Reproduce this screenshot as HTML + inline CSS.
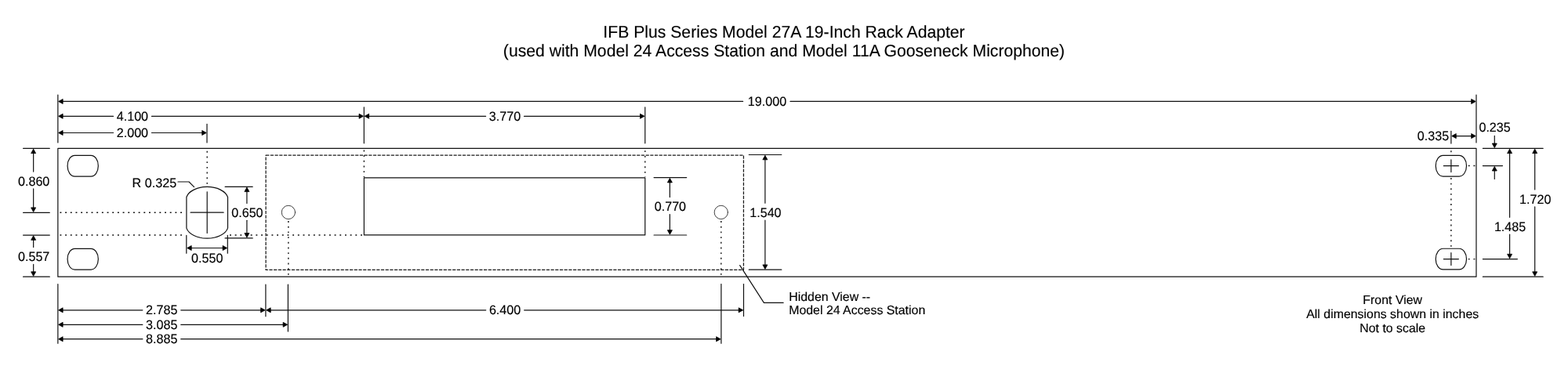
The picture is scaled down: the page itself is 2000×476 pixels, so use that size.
<!DOCTYPE html>
<html><head><meta charset="utf-8"><title>IFB Plus Series Model 27A 19-Inch Rack Adapter</title>
<style>
html,body{margin:0;padding:0;background:#fff;}
body{width:2000px;height:476px;overflow:hidden;}
svg{display:block;will-change:transform;}
svg line,svg rect,svg path,svg circle,svg polyline{fill:none;stroke:#111;stroke-width:1.2;stroke-linecap:round;stroke-linejoin:round;}
svg .dash{stroke-dasharray:4.2 1.5;stroke-width:1.25;stroke:#1a1a1a;stroke-linecap:butt;}
svg .thin{stroke-width:0.85;stroke:#222;}
svg .dot{stroke-width:1.4;stroke-linecap:butt;}
svg .ah{fill:#000;stroke:#000;stroke-width:0.8;stroke-linejoin:round;}
svg text{font-family:"Liberation Sans", Arial, sans-serif;fill:#000;stroke:#000;stroke-width:0.15;text-rendering:geometricPrecision;}
svg text.tt{stroke-width:0.12;}
</style></head>
<body>
<svg width="2000" height="476" viewBox="0 0 2000 476">
<rect x="0" y="0" width="2000" height="476" style="fill:#fff;stroke:none"/>
<text class="tt" transform="translate(1000.00,47.95) scale(1,1.02)" text-anchor="middle" font-size="21.18">IFB Plus Series Model 27A 19-Inch Rack Adapter</text>
<text class="tt" transform="translate(1000.00,71.85) scale(1,1.02)" text-anchor="middle" font-size="21.18">(used with Model 24 Access Station and Model 11A Gooseneck Microphone)</text>
<rect x="73.85" y="189.35" width="1809.15" height="163.80"/>
<rect x="86.10" y="198.40" width="39.2" height="26.7" rx="9.3" ry="13.0"/>
<rect x="86.10" y="317.35" width="39.2" height="26.7" rx="9.3" ry="13.0"/>
<rect x="1831.30" y="198.35" width="39.2" height="26.7" rx="9.3" ry="13.0"/>
<line x1="1841.40" y1="211.70" x2="1860.40" y2="211.70" />
<line x1="1850.90" y1="203.80" x2="1850.90" y2="219.60" />
<rect x="1831.30" y="317.25" width="39.2" height="26.7" rx="9.3" ry="13.0"/>
<line x1="1841.40" y1="330.60" x2="1860.40" y2="330.60" />
<line x1="1850.90" y1="322.70" x2="1850.90" y2="338.50" />
<path d="M237.90,251.48 A26.9,16.5 0 0 1 290.50,251.48 L290.50,291.17 A26.9,16.5 0 0 1 237.90,291.17 Z"/>
<line x1="243.10" y1="271.20" x2="285.10" y2="271.20" />
<line x1="264.20" y1="244.80" x2="264.20" y2="297.40" />
<rect class="dash" x="339.1" y="198.0" width="609.35" height="146.40"/>
<rect x="464.35" y="226.95" width="358.45" height="72.95"/>
<circle class="thin" cx="367.9" cy="270.95" r="8.65"/>
<circle class="thin" cx="919.8" cy="270.95" r="8.65"/>
<line class="dot" x1="76.45" y1="271.20" x2="233.00" y2="271.20" stroke-dasharray="1.9 4.78"/>
<line class="dot" x1="76.45" y1="300.00" x2="233.00" y2="300.00" stroke-dasharray="1.9 4.78"/>
<line class="dot" x1="293.00" y1="300.00" x2="464.35" y2="300.00" stroke-dasharray="1.9 4.78"/>
<line class="dot" x1="264.20" y1="192.85" x2="264.20" y2="236.00" stroke-dasharray="1.9 4.78"/>
<line class="dot" x1="464.35" y1="191.50" x2="464.35" y2="225.95" stroke-dasharray="1.9 4.78"/>
<line class="dot" x1="822.80" y1="192.20" x2="822.80" y2="225.95" stroke-dasharray="1.9 4.78"/>
<line class="dot" x1="367.85" y1="282.10" x2="367.85" y2="353.15" stroke-dasharray="1.9 4.78"/>
<line class="dot" x1="919.80" y1="282.10" x2="919.80" y2="353.15" stroke-dasharray="1.9 4.78"/>
<line class="dot" x1="1850.90" y1="192.35" x2="1850.90" y2="196.00" stroke-dasharray="1.9 4.78"/>
<line class="dot" x1="1850.90" y1="227.10" x2="1850.90" y2="315.50" stroke-dasharray="1.9 4.70"/>
<line class="dot" x1="1872.80" y1="211.50" x2="1882.00" y2="211.50" stroke-dasharray="1.9 4.78"/>
<line class="dot" x1="1872.80" y1="330.60" x2="1882.00" y2="330.60" stroke-dasharray="1.9 4.78"/>
<line x1="73.85" y1="121.00" x2="73.85" y2="182.00" />
<line x1="1883.00" y1="121.00" x2="1883.00" y2="182.00" />
<line x1="264.00" y1="158.40" x2="264.00" y2="182.00" />
<line x1="464.30" y1="136.80" x2="464.30" y2="182.80" />
<line x1="822.80" y1="136.80" x2="822.80" y2="182.80" />
<line x1="77.35" y1="129.45" x2="947.60" y2="129.45" />
<line x1="1008.00" y1="129.45" x2="1879.50" y2="129.45" />
<polygon class="ah" points="74.65,129.45 80.15,126.45 80.15,132.45"/>
<polygon class="ah" points="1882.20,129.45 1876.70,132.45 1876.70,126.45"/>
<text class="t" transform="translate(978.50,135.10) scale(1,1.025)" text-anchor="middle" font-size="16.15">19.000</text>
<line x1="77.35" y1="148.30" x2="144.55" y2="148.30" />
<line x1="193.45" y1="148.30" x2="460.80" y2="148.30" />
<polygon class="ah" points="74.65,148.30 80.15,145.30 80.15,151.30"/>
<polygon class="ah" points="463.50,148.30 458.00,151.30 458.00,145.30"/>
<text class="t" transform="translate(168.90,153.90) scale(1,1.025)" text-anchor="middle" font-size="16.15">4.100</text>
<line x1="467.80" y1="148.30" x2="619.60" y2="148.30" />
<line x1="668.50" y1="148.30" x2="819.30" y2="148.30" />
<polygon class="ah" points="465.10,148.30 470.60,145.30 470.60,151.30"/>
<polygon class="ah" points="822.00,148.30 816.50,151.30 816.50,145.30"/>
<text class="t" transform="translate(643.95,153.85) scale(1,1.025)" text-anchor="middle" font-size="16.15">3.770</text>
<line x1="77.35" y1="169.50" x2="144.55" y2="169.50" />
<line x1="193.45" y1="169.50" x2="260.50" y2="169.50" />
<polygon class="ah" points="74.65,169.50 80.15,166.50 80.15,172.50"/>
<polygon class="ah" points="263.20,169.50 257.70,172.50 257.70,166.50"/>
<text class="t" transform="translate(168.90,175.10) scale(1,1.025)" text-anchor="middle" font-size="16.15">2.000</text>
<line x1="29.60" y1="189.35" x2="63.30" y2="189.35" />
<line x1="29.60" y1="271.35" x2="63.30" y2="271.35" />
<line x1="29.60" y1="300.05" x2="63.30" y2="300.05" />
<line x1="29.60" y1="353.15" x2="63.30" y2="353.15" />
<line x1="42.65" y1="192.85" x2="42.65" y2="219.05" />
<line x1="42.65" y1="240.95" x2="42.65" y2="267.70" />
<polygon class="ah" points="42.65,190.15 45.65,195.65 39.65,195.65"/>
<polygon class="ah" points="42.65,270.40 39.65,264.90 45.65,264.90"/>
<text class="t" transform="translate(43.15,236.75) scale(1,1.025)" text-anchor="middle" font-size="16.15">0.860</text>
<line x1="42.65" y1="303.50" x2="42.65" y2="315.50" />
<line x1="42.65" y1="337.40" x2="42.65" y2="349.65" />
<polygon class="ah" points="42.65,300.80 45.65,306.30 39.65,306.30"/>
<polygon class="ah" points="42.65,352.35 39.65,346.85 45.65,346.85"/>
<text class="t" transform="translate(43.15,333.20) scale(1,1.025)" text-anchor="middle" font-size="16.15">0.557</text>
<text class="t" transform="translate(168.60,238.55) scale(1,1.025)" text-anchor="start" font-size="16.15">R 0.325</text>
<polyline points="227.0,232 241.0,232 247.6,238.6"/>
<line x1="287.10" y1="238.30" x2="322.20" y2="238.30" />
<line x1="287.10" y1="303.90" x2="322.20" y2="303.90" />
<line x1="314.90" y1="241.80" x2="314.90" y2="259.40" />
<line x1="314.90" y1="281.30" x2="314.90" y2="300.40" />
<polygon class="ah" points="314.90,239.10 317.90,244.60 311.90,244.60"/>
<polygon class="ah" points="314.90,303.10 311.90,297.60 317.90,297.60"/>
<text class="t" transform="translate(315.40,277.10) scale(1,1.025)" text-anchor="middle" font-size="16.15">0.650</text>
<line x1="237.80" y1="300.40" x2="237.80" y2="323.20" />
<line x1="290.30" y1="300.40" x2="290.30" y2="323.20" />
<line x1="241.30" y1="316.50" x2="286.80" y2="316.50" />
<polygon class="ah" points="238.70,316.50 244.20,313.50 244.20,319.50"/>
<polygon class="ah" points="289.60,316.50 284.10,319.50 284.10,313.50"/>
<text class="t" transform="translate(264.20,335.00) scale(1,1.025)" text-anchor="middle" font-size="16.15">0.550</text>
<line x1="834.10" y1="226.60" x2="875.70" y2="226.60" />
<line x1="834.10" y1="300.00" x2="875.70" y2="300.00" />
<line x1="854.40" y1="230.10" x2="854.40" y2="251.60" />
<line x1="854.40" y1="273.50" x2="854.40" y2="296.50" />
<polygon class="ah" points="854.40,227.40 857.40,232.90 851.40,232.90"/>
<polygon class="ah" points="854.40,299.20 851.40,293.70 857.40,293.70"/>
<text class="t" transform="translate(854.90,269.30) scale(1,1.025)" text-anchor="middle" font-size="16.15">0.770</text>
<line x1="955.30" y1="197.50" x2="996.80" y2="197.50" />
<line x1="955.30" y1="344.20" x2="996.80" y2="344.20" />
<line x1="975.90" y1="201.00" x2="975.90" y2="259.15" />
<line x1="975.90" y1="281.05" x2="975.90" y2="340.70" />
<polygon class="ah" points="975.90,198.30 978.90,203.80 972.90,203.80"/>
<polygon class="ah" points="975.90,343.40 972.90,337.90 978.90,337.90"/>
<text class="t" transform="translate(976.40,276.85) scale(1,1.025)" text-anchor="middle" font-size="16.15">1.540</text>
<line x1="73.85" y1="362.70" x2="73.85" y2="438.20" />
<line x1="338.90" y1="363.00" x2="338.90" y2="403.70" />
<line x1="367.40" y1="363.00" x2="367.40" y2="423.00" />
<line x1="919.90" y1="362.50" x2="919.90" y2="438.20" />
<line x1="948.50" y1="362.50" x2="948.50" y2="403.50" />
<line x1="77.35" y1="395.80" x2="181.85" y2="395.80" />
<line x1="230.75" y1="395.80" x2="335.40" y2="395.80" />
<polygon class="ah" points="74.65,395.80 80.15,392.80 80.15,398.80"/>
<polygon class="ah" points="338.10,395.80 332.60,398.80 332.60,392.80"/>
<text class="t" transform="translate(206.20,401.35) scale(1,1.025)" text-anchor="middle" font-size="16.15">2.785</text>
<line x1="342.40" y1="395.80" x2="619.75" y2="395.80" />
<line x1="668.65" y1="395.80" x2="945.00" y2="395.80" />
<polygon class="ah" points="339.70,395.80 345.20,392.80 345.20,398.80"/>
<polygon class="ah" points="947.70,395.80 942.20,398.80 942.20,392.80"/>
<text class="t" transform="translate(644.10,401.35) scale(1,1.025)" text-anchor="middle" font-size="16.15">6.400</text>
<line x1="77.35" y1="414.30" x2="181.85" y2="414.30" />
<line x1="230.75" y1="414.30" x2="363.90" y2="414.30" />
<polygon class="ah" points="74.65,414.30 80.15,411.30 80.15,417.30"/>
<polygon class="ah" points="366.60,414.30 361.10,417.30 361.10,411.30"/>
<text class="t" transform="translate(206.20,419.85) scale(1,1.025)" text-anchor="middle" font-size="16.15">3.085</text>
<line x1="77.35" y1="432.70" x2="181.85" y2="432.70" />
<line x1="230.75" y1="432.70" x2="916.40" y2="432.70" />
<polygon class="ah" points="74.65,432.70 80.15,429.70 80.15,435.70"/>
<polygon class="ah" points="919.10,432.70 913.60,435.70 913.60,429.70"/>
<text class="t" transform="translate(206.20,438.25) scale(1,1.025)" text-anchor="middle" font-size="16.15">8.885</text>
<polyline points="943.7,338.6 974.4,386.4 999.1,386.4"/>
<text class="t" transform="translate(1006.20,384.00) scale(1,1.0)" text-anchor="start" font-size="15.9">Hidden View --</text>
<text class="t" transform="translate(1006.20,401.30) scale(1,1.0)" text-anchor="start" font-size="15.9">Model 24 Access Station</text>
<line x1="1850.90" y1="167.40" x2="1850.90" y2="183.10" />
<line x1="1854.50" y1="173.60" x2="1879.50" y2="173.60" />
<polygon class="ah" points="1851.80,173.60 1857.30,170.60 1857.30,176.60"/>
<polygon class="ah" points="1882.20,173.60 1876.70,176.60 1876.70,170.60"/>
<text class="t" transform="translate(1848.20,179.40) scale(1,1.025)" text-anchor="end" font-size="16.15">0.335</text>
<text class="t" transform="translate(1886.40,168.00) scale(1,1.025)" text-anchor="start" font-size="16.15">0.235</text>
<line x1="1906.30" y1="173.40" x2="1906.30" y2="185.85" />
<polygon class="ah" points="1906.30,188.55 1903.30,183.05 1909.30,183.05"/>
<line x1="1891.40" y1="189.35" x2="1968.20" y2="189.35" />
<line x1="1891.40" y1="353.15" x2="1968.20" y2="353.15" />
<line x1="1891.40" y1="211.60" x2="1916.50" y2="211.60" />
<line x1="1906.30" y1="228.40" x2="1906.30" y2="215.10" />
<polygon class="ah" points="1906.30,212.50 1909.30,218.00 1903.30,218.00"/>
<line x1="1891.40" y1="330.60" x2="1935.40" y2="330.60" />
<line x1="1925.60" y1="192.85" x2="1925.60" y2="277.30" />
<line x1="1925.60" y1="299.20" x2="1925.60" y2="327.10" />
<polygon class="ah" points="1925.60,190.15 1928.60,195.65 1922.60,195.65"/>
<polygon class="ah" points="1925.60,329.80 1922.60,324.30 1928.60,324.30"/>
<text class="t" transform="translate(1926.10,295.00) scale(1,1.025)" text-anchor="middle" font-size="16.15">1.485</text>
<line x1="1957.70" y1="192.85" x2="1957.70" y2="242.00" />
<line x1="1957.70" y1="263.90" x2="1957.70" y2="349.65" />
<polygon class="ah" points="1957.70,190.15 1960.70,195.65 1954.70,195.65"/>
<polygon class="ah" points="1957.70,352.35 1954.70,346.85 1960.70,346.85"/>
<text class="t" transform="translate(1958.20,259.70) scale(1,1.025)" text-anchor="middle" font-size="16.15">1.720</text>
<text class="t" transform="translate(1776.20,388.20) scale(1,1.0)" text-anchor="middle" font-size="15.9">Front View</text>
<text class="t" transform="translate(1776.20,406.20) scale(1,1.0)" text-anchor="middle" font-size="15.9">All dimensions shown in inches</text>
<text class="t" transform="translate(1776.20,424.20) scale(1,1.0)" text-anchor="middle" font-size="15.9">Not to scale</text>
</svg>
</body></html>
